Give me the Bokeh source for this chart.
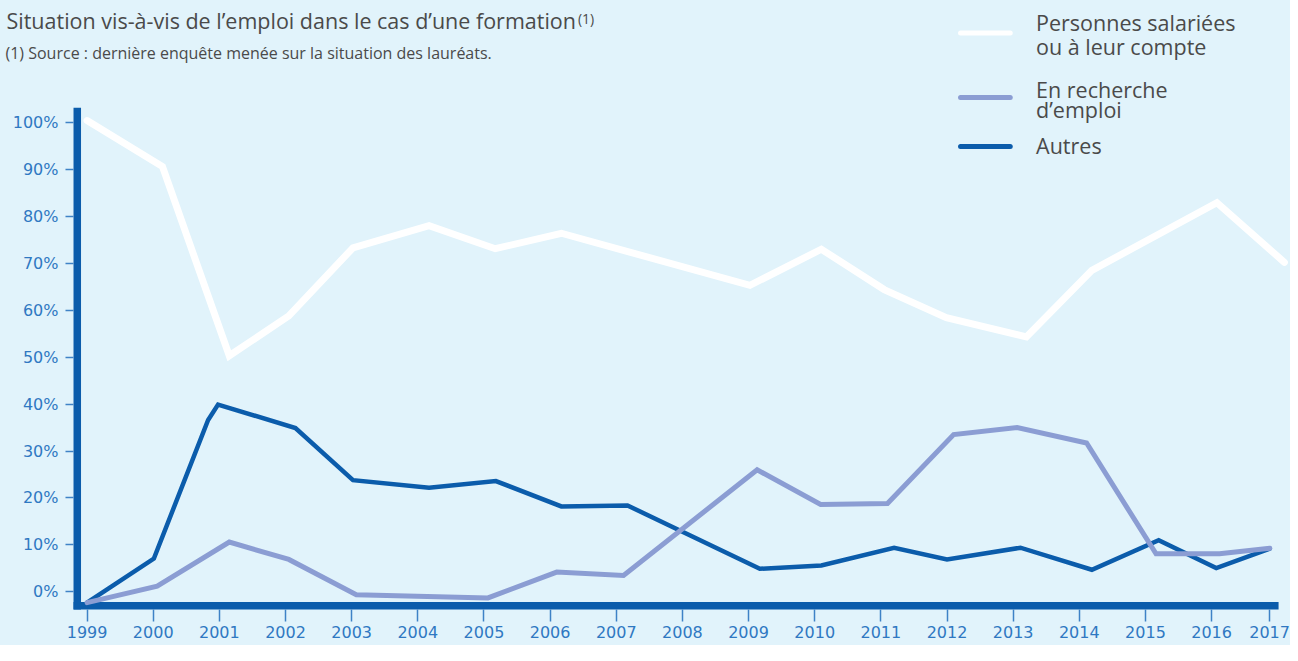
from bokeh.plotting import figure
from bokeh.layouts import column, row
from bokeh.models import FixedTicker, PrintfTickFormatter, CustomJSTickFormatter, Label, Range1d
from bokeh.embed import file_html
from bokeh.resources import INLINE

# ---------------- data ----------------
years_sal = [1999.0, 2000.14, 2001.15, 2002.05, 2003.02, 2004.17, 2005.17, 2006.17,
             2009.02, 2010.10, 2011.05, 2011.99, 2013.20, 2014.19, 2016.08, 2017.10]
salaries = [100.4, 90.6, 50.3, 58.8, 73.3, 78.0, 73.1, 76.4,
            65.3, 73.0, 64.4, 58.4, 54.3, 68.5, 82.9, 70.2]

years_rech = [1999.0, 2000.06, 2001.15, 2002.05, 2003.07, 2005.06, 2006.10, 2007.11,
              2009.13, 2010.09, 2011.10, 2012.10, 2013.06, 2014.11, 2015.16, 2016.12, 2016.88]
recherche = [-2.3, 1.2, 10.6, 6.9, -0.6, -1.3, 4.2, 3.5,
             26.0, 18.6, 18.8, 33.5, 35.0, 31.7, 8.1, 8.1, 9.3]

years_aut = [1999.0, 2000.01, 2000.83, 2000.98, 2002.15, 2003.02, 2004.17, 2005.18,
             2006.17, 2007.17, 2009.17, 2010.10, 2011.20, 2012.00, 2013.11, 2014.19,
             2015.20, 2016.07, 2016.88]
autres = [-2.3, 7.1, 36.6, 39.9, 34.9, 23.8, 22.2, 23.6,
          18.2, 18.4, 4.9, 5.6, 9.4, 6.9, 9.4, 4.7,
          11.0, 5.05, 9.2]

tick_years = list(range(1999, 2017)) + [2016.877]
tick_pcts = list(range(0, 101, 10))

title_text = "Situation vis-à-vis de l’emploi dans le cas d’une formation"
title_sup = "(1)"
subtitle_text = "(1) Source : dernière enquête menée sur la situation des lauréats."
legend_sal = ["Personnes salariées", "ou à leur compte"]
legend_rech = ["En recherche", "d’emploi"]
legend_aut = ["Autres"]

# ---------------- styling ----------------
BG = "#e1f3fb"
C_SAL = "#ffffff"
C_RECH = "#8b9dd3"
C_AUT = "#0b5cab"
C_TEXT = "#4a4a4a"
C_TICK = "#2f78c2"
FONT = "Open Sans"
TFONT = "DejaVu Sans"
SHIFT = 0.35             # empirical baseline correction (em)

W, H = 1290, 645
FX, FY = W / 1298.0, H / 661.0      # reference px -> page px
H1 = 72                              # header strip height
H2 = H - H1

RX0, RDX = 87.1, 66.56   # x of 1999, px per year (reference)
RY0, RDY = 606.0, 4.81   # y of 0 %, px per % (reference)


def xd(rpx):
    return 1999 + (rpx - RX0) / RDX


def yd(rpy):
    return (RY0 - rpy) / RDY


# ---------------- header strip ----------------
hdr = figure(width=W, height=H1, x_range=Range1d(0, W), y_range=Range1d(H1, 0),
             x_axis_type=None, y_axis_type=None, output_backend="svg", toolbar_location=None,
             min_border=0, min_border_left=0, min_border_right=0, min_border_top=0, min_border_bottom=0)
hdr.background_fill_color = BG
hdr.border_fill_color = BG
hdr.outline_line_color = None
hdr.grid.visible = False


def hlabel(rx, rby, text, fs):
    hdr.add_layout(Label(x=rx * FX, y=rby * FY - SHIFT * fs, text=text, text_font=FONT,
                         text_font_size=f"{fs}px", text_color=C_TEXT, text_baseline="alphabetic"))


hlabel(6, 28.3, title_text, 21.5)
hlabel(581, 23.5, title_sup, 14)
hlabel(5, 60, subtitle_text, 16)
hdr.segment(x0=[966 * FX], y0=[33.3 * FY], x1=[1016 * FX], y1=[33.3 * FY],
            line_color=C_SAL, line_width=5, line_cap="round")
for t, b in zip(legend_sal, (30, 55)):
    hlabel(1042, b, t, 21.5)

# ---------------- main chart ----------------
ML, MB = 73, 36
f_left = ML / FX
f_right = W / FX
f_top = H1 / FY
f_bottom = (H - MB) / FY

p = figure(width=W, height=H2,
           x_range=Range1d(xd(f_left), xd(f_right)), y_range=Range1d(yd(f_bottom), yd(f_top)),
           output_backend="svg", toolbar_location=None,
           min_border_left=ML, min_border_right=0, min_border_top=0, min_border_bottom=MB)
p.background_fill_color = BG
p.border_fill_color = BG
p.outline_line_color = None
p.xgrid.visible = False
p.ygrid.visible = False

p.xaxis.ticker = FixedTicker(ticks=tick_years)
p.xaxis.formatter = CustomJSTickFormatter(code="return tick > 2016.5 ? '2017' : tick.toFixed(0);")
p.yaxis.ticker = FixedTicker(ticks=tick_pcts)
p.yaxis.formatter = PrintfTickFormatter(format="%d%%")
for ax in (p.xaxis, p.yaxis):
    ax.axis_line_color = None
    ax.major_tick_line_color = "#3f82c6"
    ax.major_tick_line_width = 1.5
    ax.major_tick_in = 0
    ax.minor_tick_line_color = None
    ax.major_label_text_font = TFONT
    ax.major_label_text_font_size = "16px"
    ax.major_label_text_color = C_TICK
p.xaxis.major_tick_out = 12
p.xaxis.major_label_standoff = 4
p.yaxis.major_tick_out = 8
p.yaxis.major_label_standoff = 7

# thick axis bars
p.segment(x0=[xd(77)], y0=[yd(626)], x1=[xd(77)], y1=[yd(110)],
          line_color=C_AUT, line_width=8, line_cap="butt")
p.segment(x0=[xd(73)], y0=[yd(620.5)], x1=[xd(1286)], y1=[yd(620.5)],
          line_color=C_AUT, line_width=8, line_cap="butt")

# series
p.line(years_sal, salaries, line_color=C_SAL, line_width=7, line_cap="round", line_join="miter")
p.line(years_aut, autres, line_color=C_AUT, line_width=4.5, line_cap="round", line_join="miter")
p.line(years_rech, recherche, line_color=C_RECH, line_width=5, line_cap="round", line_join="miter")

# remaining legend entries
for ry, col in ((99.3, C_RECH), (149.7, C_AUT)):
    p.segment(x0=[xd(966)], y0=[yd(ry)], x1=[xd(1016)], y1=[yd(ry)],
              line_color=col, line_width=5, line_cap="round")
for lines, baselines in ((legend_rech, (99.3, 119.3)), (legend_aut, (156.7,))):
    for t, b in zip(lines, baselines):
        fs = 21.5
        p.add_layout(Label(x=xd(1042), y=yd(b - SHIFT * fs / FY), text=t, text_font=FONT,
                           text_font_size=f"{fs}px", text_color=C_TEXT, text_baseline="alphabetic"))

top_row = row(hdr)
top_row.styles = {"background-color": BG}
layout = column(top_row, p, spacing=0)
layout.styles = {"background-color": BG}
open("out.html", "w").write(file_html(layout, INLINE))
